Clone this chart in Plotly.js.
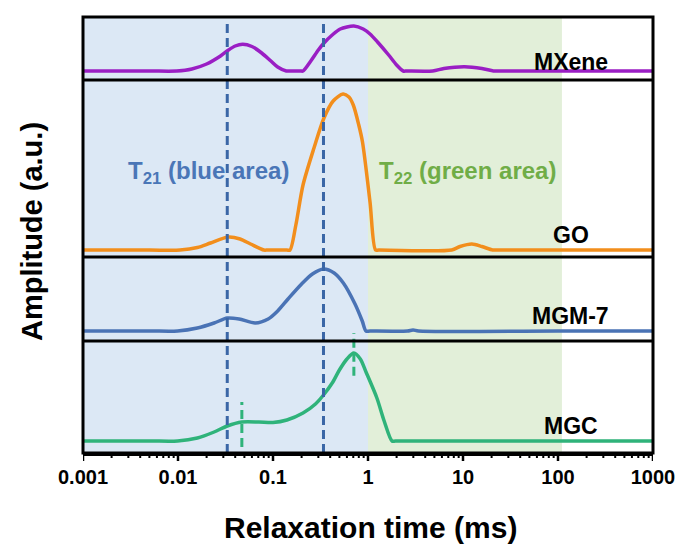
<!DOCTYPE html>
<html>
<head>
<meta charset="utf-8">
<script src="https://cdn.plot.ly/plotly-3.0.1.min.js"></script>
<style>html,body{margin:0;padding:0;background:#fff;}#chart{width:678px;height:546px;}</style>
</head>
<body>
<div id="chart"></div>
<script>
// ---- data (relaxation time in ms, amplitude in a.u.) ----
const mxeneT   = [0.001, 0.005, 0.0097, 0.014, 0.020, 0.028, 0.034, 0.040, 0.048, 0.060, 0.076, 0.095, 0.112, 0.138, 0.150, 0.195, 0.207, 0.25, 0.30, 0.344, 0.42, 0.51, 0.71, 0.89, 1.05, 1.26, 1.65, 2.0, 2.35, 2.55, 4.8, 6.3, 10.4, 15.8, 20.9, 23, 100, 1000];
const mxeneAmp = [0, 0, 0, 2, 7, 15, 21, 25, 26.7, 24.5, 18, 10, 4, 0, 0, 0, 0, 10, 21, 28, 36, 42, 45, 42, 37, 29, 16, 6, 0, 0, 0, 2.5, 4.3, 2.5, 0, 0, 0, 0];

const goT   = [0.001, 0.005, 0.0105, 0.016, 0.022, 0.034, 0.045, 0.058, 0.080, 0.088, 0.140, 0.151, 0.174, 0.207, 0.27, 0.344, 0.43, 0.546, 0.63, 0.70, 0.80, 0.875, 1.05, 1.2, 1.3, 7.6, 9.3, 12.4, 15.8, 20.5, 23, 100, 1000];
const goAmp = [0, 0, 0, 2.5, 7, 13, 11, 6, 0, 0, 0, 0, 25, 65, 102, 132, 149, 156, 153, 145, 125, 108, 48, 0, 0, 0, 3.5, 6, 3.5, 0, 0, 0, 0];

const mgmT   = [0.001, 0.005, 0.0099, 0.016, 0.024, 0.033, 0.044, 0.065, 0.089, 0.112, 0.144, 0.20, 0.26, 0.34, 0.44, 0.55, 0.73, 0.87, 0.953, 1.05, 2.6, 2.98, 3.4, 100, 1000];
const mgmAmp = [0, 0, 0, 3, 8, 13, 12, 8, 12, 20, 32, 47, 57, 62, 58, 48, 27, 10, 0, 0, 0, 1, 0, 0, 0];

const mgcT   = [0.001, 0.005, 0.0099, 0.016, 0.024, 0.033, 0.047, 0.071, 0.10, 0.14, 0.207, 0.28, 0.34, 0.42, 0.50, 0.60, 0.71, 0.83, 0.953, 1.24, 1.48, 1.79, 1.95, 100, 1000];
const mgcAmp = [0, 0, 0, 3, 9, 15, 19, 19, 18.5, 21, 28, 37, 46, 58, 71, 82, 88, 82, 69, 43, 20, 0, 0, 0, 0];

const seriesNames  = ['MXene', 'GO', 'MGM-7', 'MGC'];
const tickVals     = [0.001, 0.01, 0.1, 1, 10, 100, 1000];
const tickText     = ['0.001', '0.01', '0.1', '1', '10', '100', '1000'];
const minorDigits  = [2, 3, 4, 5, 6, 7, 8, 9];
const t21Region    = [0.001, 1];      // blue area
const t22Region    = [1, 110];        // green area
const t2Markers    = [0.033, 0.34];   // blue dashed lines
const mgcMarkers   = [0.047, 0.71];   // green dashed marks

// ---- styling ----
const FONT = 'Arial, "Liberation Sans", sans-serif';
const colors = ['#9a1ec4', '#f28e1c', '#4a73b5', '#2fb37a'];
const domains = [[0.8555, 1], [0.4495, 0.8555], [0.2569, 0.4495], [0, 0.2569]];
const yRanges = [[-9, 54], [-7, 170], [-10, 74], [-12, 100]];
const yNames = ['y', 'y2', 'y3', 'y4'];
const PLOT_H = 436;

const xs = [mxeneT, goT, mgmT, mgcT];
const ys = [mxeneAmp, goAmp, mgmAmp, mgcAmp];

const traces = xs.map((x, i) => ({
  x: x, y: ys[i], name: seriesNames[i], type: 'scatter', mode: 'lines',
  xaxis: 'x', yaxis: yNames[i],
  line: {color: colors[i], width: 3.5, shape: 'spline', smoothing: 0.8},
  hoverinfo: 'x+y+name'
}));

const minorTicks = [];
tickVals.slice(0, -1).forEach(d => minorDigits.forEach(m => minorTicks.push(d * m)));

const layout = {
  width: 678, height: 546,
  margin: {l: 83, r: 25, t: 17, b: 93},
  paper_bgcolor: '#fff', plot_bgcolor: 'rgba(0,0,0,0)',
  showlegend: false,
  font: {family: FONT, color: '#000'},
  xaxis: {
    type: 'log', range: [-3, 3], anchor: 'y4',
    tickmode: 'array', tickvals: tickVals, ticktext: tickText,
    tickfont: {family: FONT, size: 20, weight: 'bold', color: '#000'},
    ticks: '', ticklabelstandoff: 4,
    showline: true, linewidth: 3, linecolor: '#000',
    showgrid: false, zeroline: false
  },
  shapes: [],
  annotations: []
};

yNames.forEach((yn, i) => {
  const key = i === 0 ? 'yaxis' : 'yaxis' + (i + 1);
  layout[key] = {
    domain: domains[i], range: yRanges[i], anchor: 'x',
    showticklabels: false, ticks: '', showgrid: false, zeroline: false, showline: false
  };
});

// shaded areas
layout.shapes.push({type: 'rect', xref: 'x', yref: 'paper', x0: t21Region[0], x1: t21Region[1], y0: 0, y1: 1,
  fillcolor: '#dce8f5', line: {width: 0}, layer: 'below'});
layout.shapes.push({type: 'rect', xref: 'x', yref: 'paper', x0: t22Region[0], x1: t22Region[1], y0: 0, y1: 1,
  fillcolor: '#e2efd9', line: {width: 0}, layer: 'below'});

// blue dashed lines across all panels
t2Markers.forEach(v => layout.shapes.push({type: 'line', xref: 'x', yref: 'paper', x0: v, x1: v, y0: 0, y1: 0.99,
  line: {color: '#3a66a6', width: 3, dash: '9px,5px'}, layer: 'above'}));

// green dashed marks for MGC
const greenSpans = [[0.014, 0.117], [0.177, 0.275]];
mgcMarkers.forEach((v, i) => layout.shapes.push({type: 'line', xref: 'x', yref: 'paper', x0: v, x1: v,
  y0: greenSpans[i][0], y1: greenSpans[i][1], line: {color: '#2fb37a', width: 3, dash: '9px,5px'}, layer: 'above'}));

// x-axis tick marks (major and log minor), drawn on the axis scale
tickVals.forEach(v => layout.shapes.push({type: 'line', xref: 'x', yref: 'paper', x0: v, x1: v,
  y0: 0, y1: -8 / PLOT_H, line: {color: '#000', width: 2.5}, layer: 'above'}));
minorTicks.forEach(v => layout.shapes.push({type: 'line', xref: 'x', yref: 'paper', x0: v, x1: v,
  y0: 0, y1: -5 / PLOT_H, line: {color: '#000', width: 2}, layer: 'above'}));

// frame and separators
layout.shapes.push({type: 'rect', xref: 'paper', yref: 'paper', x0: 0, x1: 1, y0: 0, y1: 1,
  line: {color: '#000', width: 3}, layer: 'above'});
[0.2569, 0.4495, 0.8555].forEach(y => layout.shapes.push({type: 'line', xref: 'paper', yref: 'paper',
  x0: 0, x1: 1, y0: y, y1: y, line: {color: '#000', width: 3}, layer: 'above'}));

// panel labels
const labelY = [0.897, 0.5, 0.314, 0.062];
seriesNames.forEach((n, i) => layout.annotations.push({
  text: n, xref: 'paper', yref: 'paper', x: 0.856, y: labelY[i], xanchor: 'center', yanchor: 'middle',
  showarrow: false, font: {family: FONT, size: 23, weight: 'bold', color: '#000'}
}));

layout.annotations.push({text: 'T<sub>21</sub> (blue area)', xref: 'paper', yref: 'paper', x: 0.221, y: 0.644,
  xanchor: 'center', yanchor: 'middle', showarrow: false, font: {family: FONT, size: 24, weight: 'bold', color: '#4a76b7'}});
layout.annotations.push({text: 'T<sub>22</sub> (green area)', xref: 'paper', yref: 'paper', x: 0.675, y: 0.644,
  xanchor: 'center', yanchor: 'middle', showarrow: false, font: {family: FONT, size: 24, weight: 'bold', color: '#70ad47'}});

// axis titles
layout.annotations.push({text: 'Relaxation time (ms)', xref: 'paper', yref: 'paper', x: 0.505, y: -0.17,
  xanchor: 'center', yanchor: 'middle', showarrow: false, font: {family: FONT, size: 30, weight: 'bold', color: '#000'}});
layout.annotations.push({text: 'Amplitude (a.u.)', xref: 'paper', yref: 'paper', x: -0.0895, y: 0.509,
  xanchor: 'center', yanchor: 'middle', textangle: -90, showarrow: false, font: {family: FONT, size: 29, weight: 'bold', color: '#000'}});

Plotly.newPlot('chart', traces, layout, {displayModeBar: false, staticPlot: true});
</script>
</body>
</html>
